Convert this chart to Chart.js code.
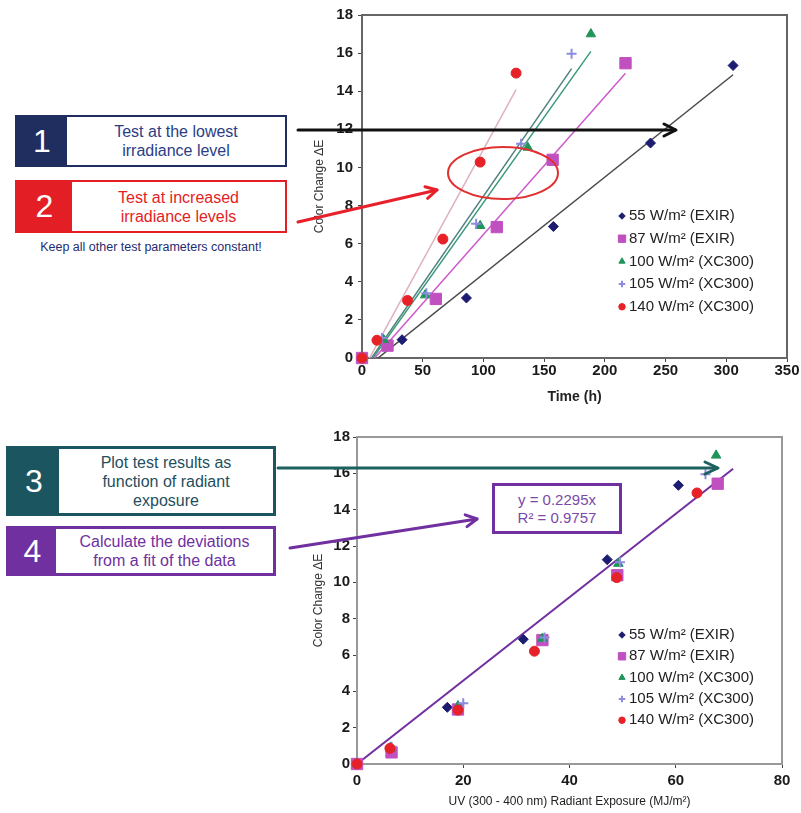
<!DOCTYPE html>
<html>
<head>
<meta charset="utf-8">
<script src="https://cdn.jsdelivr.net/npm/chart.js@4.4.1/dist/chart.umd.min.js"></script>
<style>
  html, body { margin:0; padding:0; background:#fff; }
  body { width:801px; height:813px; position:relative; overflow:hidden; font-family:"Liberation Sans", Arial, sans-serif; }
  canvas { position:absolute; }
  .box { position:absolute; box-sizing:border-box; display:flex; background:#fff; }
  .num { display:flex; align-items:center; justify-content:center; color:#fff; font-size:32px; }
  .txt { flex:1; display:flex; align-items:center; justify-content:center; text-align:center; font-size:16px; line-height:19px; }
  .note { position:absolute; font-size:12.5px; color:#1f2d6f; text-align:center; }
  .eq { position:absolute; box-sizing:border-box; border:3px solid #7030a0; color:#7a4aa8; font-size:15px; line-height:18px; text-align:center; display:flex; align-items:center; justify-content:center; background:#fff; }
  svg { position:absolute; left:0; top:0; pointer-events:none; }
</style>
</head>
<body>
<canvas id="c1" width="500" height="410" style="left:300px;top:0px;width:500px;height:410px"></canvas>
<canvas id="c2" width="500" height="393" style="left:300px;top:420px;width:500px;height:393px"></canvas>

<div class="box" style="left:15px;top:115px;width:272px;height:52px;border:2px solid #1f2d5f;">
  <div class="num" style="width:50px;background:#1f2d5f;">1</div>
  <div class="txt" style="color:#2b3d85;">Test at the lowest<br>irradiance level</div>
</div>
<div class="box" style="left:15px;top:180px;width:272px;height:53px;border:2px solid #e31e24;">
  <div class="num" style="width:55px;background:#e31e24;">2</div>
  <div class="txt" style="color:#e31e24;">Test at increased<br>irradiance levels</div>
</div>
<div class="note" style="left:10px;top:240px;width:282px;">Keep all other test parameters constant!</div>

<div class="box" style="left:6px;top:446px;width:270px;height:70px;border:3px solid #1b5560;">
  <div class="num" style="width:50px;background:#1b5560;">3</div>
  <div class="txt" style="color:#1f4f5e;">Plot test results as<br>function of radiant<br>exposure</div>
</div>
<div class="box" style="left:6px;top:526px;width:270px;height:50px;border:3px solid #7030a0;">
  <div class="num" style="width:47px;background:#7030a0;">4</div>
  <div class="txt" style="color:#7030a0;">Calculate the deviations<br>from a fit of the data</div>
</div>

<div class="eq" style="left:492px;top:483px;width:130px;height:51px;">y = 0.2295x<br>R² = 0.9757</div>

<svg width="801" height="813">
  <g fill="none" stroke-linecap="round" stroke-linejoin="round">
    <line x1="298" y1="130" x2="675" y2="130" stroke="#111" stroke-width="3"/>
    <polyline points="664,124 676,130 664,136" stroke="#111" stroke-width="3"/>
    <line x1="298" y1="222" x2="437" y2="190" stroke="#e8202a" stroke-width="3"/>
    <polyline points="427.6,198.3 437,190 425,186.7" stroke="#e8202a" stroke-width="3"/>
    <ellipse cx="503" cy="173" rx="55" ry="26" stroke="#e03030" stroke-width="2"/>
    <line x1="278" y1="468" x2="717" y2="468" stroke="#1e6060" stroke-width="3"/>
    <polyline points="705,462 718,468 705,474" stroke="#1e6060" stroke-width="3"/>
    <line x1="290" y1="548" x2="477" y2="519" stroke="#7030a0" stroke-width="3"/>
    <polyline points="467,526.6 477,519 465.2,514.8" stroke="#7030a0" stroke-width="3"/>
  </g>
</svg>

<script>
// ---------- DATA ----------
const seriesLabels = ['55 W/m² (EXIR)', '87 W/m² (EXIR)', '100 W/m² (XC300)', '105 W/m² (XC300)', '140 W/m² (XC300)'];

// Top chart: Color change vs time (h)
const time55  = [0, 33, 86, 157.6, 237.6, 305.6];
const dE55    = [0, 0.96, 3.15, 6.9, 11.28, 15.35];
const time87  = [0, 21, 60.8, 111, 157, 217];
const dE87    = [0, 0.65, 3.1, 6.87, 10.4, 15.47];
const time100 = [0, 17.8, 52, 97.3, 136.5, 188.5];
const dE100   = [0, 0.96, 3.3, 6.94, 11.05, 17.0];
const time105 = [0, 16.4, 53, 94, 131, 172.6];
const dE105   = [0, 1.05, 3.4, 7.05, 11.24, 15.96];
const time140 = [0, 12.3, 37.5, 66.6, 97.3, 126.9];
const dE140   = [0, 0.93, 3.02, 6.24, 10.28, 14.95];

// Bottom chart: Color change vs UV radiant exposure (MJ/m²)
const rad55  = [0, 6.3, 17.0, 31.3, 47.1, 60.5];
const rad87  = [0, 6.5, 19.0, 34.9, 49.0, 67.9];
const rad100 = [0, 6.3, 19.0, 34.9, 49.2, 67.6];
const rad105 = [0, 6.5, 20.0, 35.3, 49.5, 65.6];
const rad140 = [0, 6.2, 19.0, 33.4, 48.9, 64.0];
const bdE55  = [0, 0.92, 3.12, 6.87, 11.25, 15.34];
const bdE87  = [0, 0.64, 3.0, 6.82, 10.39, 15.43];
const bdE100 = [0, 0.86, 3.19, 6.91, 11.03, 16.99];
const bdE105 = [0, 0.95, 3.34, 6.96, 11.1, 15.95];
const bdE140 = [0, 0.86, 2.97, 6.21, 10.26, 14.92];
const fitSlope = 0.2295;          // y = 0.2295x (from the chart)
const fitRange = [0, 70.8];       // extent of the fitted line

const timeTicks = [0, 50, 100, 150, 200, 250, 300, 350];
const radTicks  = [0, 20, 40, 60, 80];
const dETicks   = [0, 2, 4, 6, 8, 10, 12, 14, 16, 18];

// ---------- STYLES ----------
const markerColors = ['#1c1c70', '#c050c0', '#20955a', '#8c8ce0', '#e62228'];
const markerStyles = ['rectRot', 'rect', 'triangle', 'cross', 'circle'];
const markerRadii  = [5, 8, 5.5, 5, 5];
const trendColors  = ['#4a4a4a', '#cc5acc', '#3a9a7a', '#4f8080', '#e0b0c0'];

function pts(xs, ys) { return xs.map((x, i) => ({x: x, y: ys[i]})); }
function linFit(xs, ys) {
  const n = xs.length;
  const mx = xs.reduce((a, b) => a + b, 0) / n, my = ys.reduce((a, b) => a + b, 0) / n;
  let sxy = 0, sxx = 0;
  for (let i = 0; i < n; i++) { sxy += (xs[i] - mx) * (ys[i] - my); sxx += (xs[i] - mx) ** 2; }
  const m = sxy / sxx, b = my - m * mx;
  const x0 = Math.min(...xs), x1 = Math.max(...xs);
  return [{x: x0, y: m * x0 + b}, {x: x1, y: m * x1 + b}];
}

const topX = [time55, time87, time100, time105, time140];
const topY = [dE55, dE87, dE100, dE105, dE140];
const botX = [rad55, rad87, rad100, rad105, rad140];
const botY = [bdE55, bdE87, bdE100, bdE105, bdE140];

function markerDatasets(xsArr, ysArr) {
  return xsArr.map((xs, i) => ({
    label: seriesLabels[i], data: pts(xs, ysArr[i]), showLine: false, clip: false,
    pointStyle: markerStyles[i], pointRadius: markerRadii[i], pointHoverRadius: markerRadii[i],
    backgroundColor: markerColors[i], borderColor: markerColors[i],
    pointBorderWidth: i === 3 ? 2 : 1, order: 5 - i, legendItem: true
  }));
}

const topDatasets = markerDatasets(topX, topY).concat(topX.map((xs, i) => ({
  label: 'trend ' + seriesLabels[i], data: linFit(xs, topY[i]), showLine: true,
  pointRadius: 0, borderColor: trendColors[i], borderWidth: 1.5, order: 10
})));

const botDatasets = markerDatasets(botX, botY).concat([{
  label: 'fit', data: fitRange.map(x => ({x: x, y: fitSlope * x})), showLine: true,
  pointRadius: 0, borderColor: '#7030a0', borderWidth: 2, order: 10
}]);

// ---------- PLUGINS ----------
const frame = {
  id: 'frame',
  beforeDatasetsDraw(chart, args, o) {
    const a = chart.chartArea, ctx = chart.ctx;
    ctx.save();
    ctx.strokeStyle = o.color; ctx.lineWidth = 2;
    ctx.strokeRect(a.left, a.top, a.right - a.left, a.bottom - a.top);
    ctx.restore();
  }
};
const inLegend = {
  id: 'inLegend',
  afterDraw(chart, args, o) {
    const ctx = chart.ctx;
    ctx.save();
    ctx.font = o.font; ctx.textBaseline = 'middle';
    let row = 0;
    chart.data.datasets.forEach(ds => {
      if (!ds.legendItem) return;
      const y = o.y + row * o.step, x = o.x;
      const r = ds.pointRadius * 0.65;
      ctx.fillStyle = ds.backgroundColor; ctx.strokeStyle = ds.borderColor; ctx.lineWidth = ds.pointBorderWidth;
      Chart.helpers.drawPoint(ctx, {pointStyle: ds.pointStyle, rotation: 0, radius: r, borderWidth: ds.pointBorderWidth}, x, y);
      ctx.fillStyle = '#222';
      ctx.fillText(ds.label, x + o.gap, y);
      row++;
    });
    ctx.restore();
  }
};

function makeOptions(cfg) {
  return {
    responsive: false, animation: false, devicePixelRatio: 1,
    layout: { padding: cfg.padding },
    plugins: { legend: { display: false }, tooltip: { enabled: false },
      frame: { color: cfg.frameColor },
      inLegend: { x: cfg.legX, y: cfg.legY, step: cfg.legStep, gap: 7, font: '15px "Liberation Sans", Arial, sans-serif' } },
    scales: {
      x: {
        type: 'linear', min: cfg.xTicks[0], max: cfg.xTicks[cfg.xTicks.length - 1],
        afterBuildTicks: s => { s.ticks = cfg.xTicks.map(v => ({value: v})); },
        afterFit: s => { s.height = cfg.xH; },
        border: { display: true, color: '#444', width: 2 },
        grid: { display: true, drawOnChartArea: false, drawTicks: true, tickLength: 4, tickColor: '#444' },
        ticks: { color: '#1a1a1a', font: { family: '"Liberation Sans", Arial', size: 15, weight: 'bold' }, padding: cfg.xPad, maxRotation: 0 },
        title: { display: true, text: cfg.xTitle, color: '#222', font: cfg.xTitleFont, padding: { top: 0, bottom: cfg.xTitlePad } }
      },
      y: {
        type: 'linear', min: 0, max: 18,
        afterBuildTicks: s => { s.ticks = dETicks.map(v => ({value: v})); },
        afterFit: s => { s.width = cfg.yW; },
        border: { display: true, color: '#444', width: 2 },
        grid: { display: true, drawOnChartArea: false, drawTicks: true, tickLength: 4, tickColor: '#444' },
        ticks: { color: '#1a1a1a', font: { family: '"Liberation Sans", Arial', size: 15, weight: 'bold' }, padding: cfg.yPad },
        title: { display: true, text: 'Color Change ΔE', color: '#333', font: { family: '"Liberation Sans", Arial', size: 12 }, padding: { top: cfg.yTitlePad, bottom: 0 } }
      }
    }
  };
}

new Chart(document.getElementById('c1'), {
  type: 'scatter',
  data: { datasets: topDatasets },
  options: makeOptions({
    padding: { left: 0, right: 13, top: 15, bottom: 0 },
    frameColor: '#666', xTicks: timeTicks, xH: 52, yW: 62, xPad: 0, yPad: 5,
    xTitle: 'Time (h)', xTitleFont: { family: '"Liberation Sans", Arial', size: 14, weight: 'bold' }, xTitlePad: 4,
    yTitlePad: 12, legX: 322, legY: 216, legStep: 22.7
  }),
  plugins: [frame, inLegend]
});

new Chart(document.getElementById('c2'), {
  type: 'scatter',
  data: { datasets: botDatasets },
  options: makeOptions({
    padding: { left: 0, right: 18, top: 17, bottom: 0 },
    frameColor: '#999', xTicks: radTicks, xH: 49, yW: 57, xPad: 4, yPad: 3,
    xTitle: 'UV (300 - 400 nm) Radiant Exposure (MJ/m²)', xTitleFont: { family: '"Liberation Sans", Arial', size: 12 }, xTitlePad: 4,
    yTitlePad: 11, legX: 322, legY: 215, legStep: 21.3
  }),
  plugins: [frame, inLegend]
});
</script>
</body>
</html>
